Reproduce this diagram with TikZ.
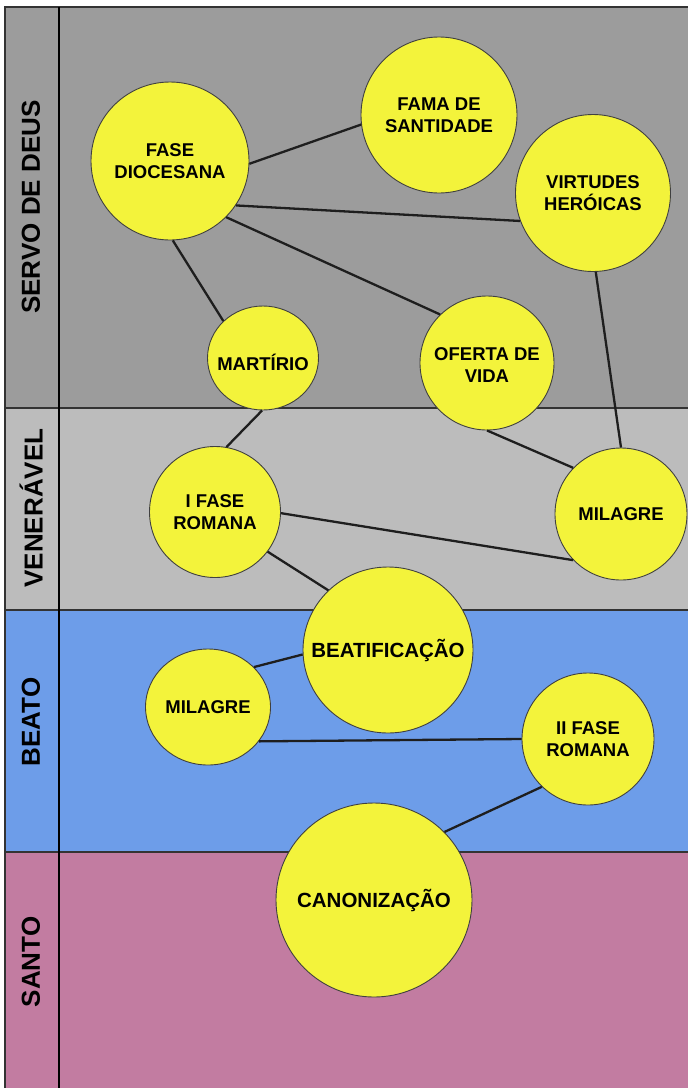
\documentclass[tikz,border=0pt]{standalone}
\usepackage{fontspec}
\setmainfont{Liberation Sans}
\usetikzlibrary{shapes.geometric}
\definecolor{bandA}{HTML}{9C9C9C}
\definecolor{bandB}{HTML}{BCBCBC}
\definecolor{bandC}{HTML}{6D9DE9}
\definecolor{bandD}{HTML}{C27CA1}
\definecolor{bubyellow}{HTML}{F3F33B}
\definecolor{inkline}{HTML}{1E1E1E}
\begin{document}
\begin{tikzpicture}[x=1pt,y=-1pt,
  bub/.style={ellipse, draw=black!75, line width=0.9pt, fill=bubyellow, inner sep=0pt},
  txt/.style={align=center, inner sep=0pt, font=\bfseries\fontsize{18.5}{22.5}\selectfont},
  bigtxt/.style={txt, font=\bfseries\fontsize{20.5}{24}\selectfont},
  link/.style={line width=2.3pt, draw=inkline},
  sep/.style={line width=1.8pt, draw=black!80},
  lane/.style={font=\bfseries\fontsize{26}{30}\selectfont, rotate=90, inner sep=0pt}]
\useasboundingbox (0,0) rectangle (688,1088);
% bands
\fill[bandA] (5,7) rectangle (688,408);
\fill[bandB] (5,408) rectangle (688,610);
\fill[bandC] (5,610) rectangle (688,852);
\fill[bandD] (5,852) rectangle (688,1088);
\draw[sep] (5,1088) -- (5,7) -- (688,7);
\draw[sep] (5,408) -- (688,408);
\draw[sep] (5,610) -- (688,610);
\draw[sep] (5,852) -- (688,852);
\draw[line width=2.2pt, black] (59,7) -- (59,1088);
% lane labels
\node[lane] (l1) at (31,207) {SERVO DE DEUS};
\node[lane] (l2) at (31,508) {VENERÁVEL};
\node[lane] (l3) at (31,722) {BEATO};
\node[lane] (l4) at (31,962) {SANTO};
% bubbles
\node[bub, minimum width=158pt, minimum height=158pt, label={[txt]center:FASE\\DIOCESANA}] (fd) at (170,161) {};
\node[bub, minimum width=156pt, minimum height=156pt, label={[txt]center:FAMA DE\\SANTIDADE}] (fama) at (439,115) {};
\node[bub, minimum width=155pt, minimum height=157pt, label={[txt]center:VIRTUDES\\HERÓICAS}] (vh) at (593,193) {};
\node[bub, minimum width=111pt, minimum height=104pt, label={[txt, yshift=-4pt]center:MARTÍRIO}] (mart) at (263,358) {};
\node[bub, minimum width=134pt, minimum height=134pt, label={[txt, yshift=-2pt]center:OFERTA DE\\VIDA}] (of) at (487,363) {};
\node[bub, minimum width=131pt, minimum height=131pt, label={[txt]center:I FASE\\ROMANA}] (ifr) at (215,512) {};
\node[bub, minimum width=132pt, minimum height=132pt, label={[txt]center:MILAGRE}] (mil1) at (621,514) {};
\node[bub, minimum width=170pt, minimum height=166pt, label={[bigtxt]center:BEATIFICAÇÃO}] (beat) at (388,650) {};
\node[bub, minimum width=125pt, minimum height=116pt, label={[txt]center:MILAGRE}] (mil2) at (208,707) {};
\node[bub, minimum width=132pt, minimum height=132pt, label={[txt]center:II FASE\\ROMANA}] (iifr) at (588,739) {};
\node[bub, minimum width=196pt, minimum height=194pt, label={[bigtxt]center:CANONIZAÇÃO}] (can) at (374,900) {};
% connectors
\draw[link] (fd.-2) -- (fama.187);
\draw[link] (fd.-34.5) -- (vh.201);
\draw[link] (fd.-45) -- (of.134);
\draw[link] (fd.-88) -- (mart.137);
\draw[link] (vh.-88.5) -- (mil1.90);
\draw[link] (of.-90) -- (mil1.136);
\draw[link] (mart.-91) -- (ifr.80);
\draw[link] (ifr.-1) -- (mil1.224);
\draw[link] (ifr.-37) -- (beat.135.5);
\draw[link] (beat.183.5) -- (mil2.41);
\draw[link] (mil2.-34) -- (iifr.180);
\draw[link] (iifr.226) -- (can.44);
\end{tikzpicture}
\end{document}
